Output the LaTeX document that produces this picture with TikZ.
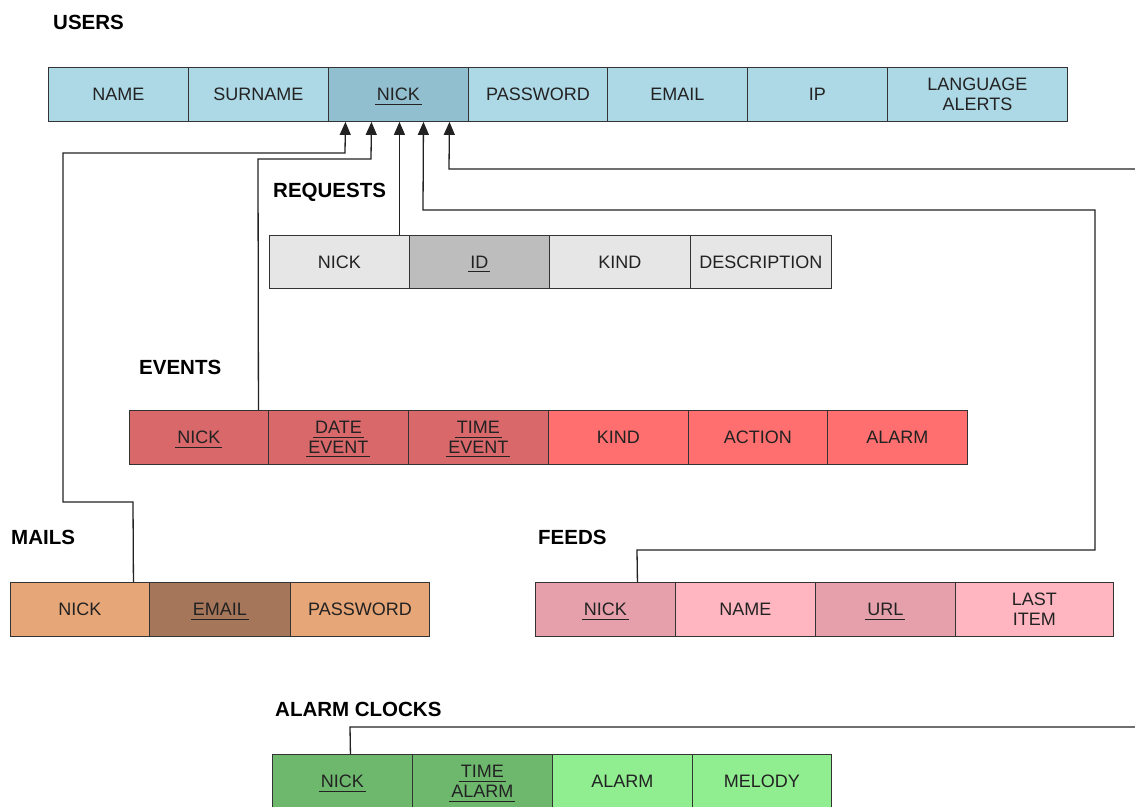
\documentclass[tikz,border=0pt]{standalone}
\usepackage{fontspec}
\setmainfont{Liberation Sans}
\usetikzlibrary{arrows.meta}

% fonts for field names and table titles
\newcommand\fieldfont{\fontsize{18}{19.5}\selectfont}
\newcommand\titlefont{\fontsize{20.5}{24}\selectfont\bfseries}
% key fields: underlined a little below the baseline (rule kept out of the box height)
\newcommand\pk[1]{\setbox0\hbox{#1}\makebox[0pt][l]{\hspace{-2pt}\smash{\rule[-4pt]{\dimexpr\wd0+4pt\relax}{0.9pt}}}\box0}

\definecolor{cellline}{HTML}{333333}
\definecolor{fieldtext}{HTML}{222222}
\definecolor{wire}{HTML}{222222}
\definecolor{usr}{HTML}{ADD8E6}
\definecolor{usrkey}{HTML}{92BFCF}
\definecolor{req}{HTML}{E6E6E6}
\definecolor{reqkey}{HTML}{BDBDBD}
\definecolor{evt}{HTML}{FF6F6F}
\definecolor{evtkey}{HTML}{D9686B}
\definecolor{mail}{HTML}{E6A677}
\definecolor{mailkey}{HTML}{A6765A}
\definecolor{feed}{HTML}{FFB6C1}
\definecolor{feedkey}{HTML}{E6A0AC}
\definecolor{alrm}{HTML}{90EE90}
\definecolor{alrmkey}{HTML}{6EB86E}

\tikzset{
  cell/.style={draw=cellline, line width=0.9pt, anchor=north west, inner sep=0pt,
    minimum height=54pt, align=center, font=\fieldfont, text=fieldtext},
  tabletitle/.style={anchor=west, inner sep=0pt, font=\titlefont, text=black},
  fk/.style={draw=wire, line width=1.3pt},
  fkarrow/.style={fk, -{Triangle[length=13pt,width=11pt]}},
}

\begin{document}
\begin{tikzpicture}[x=1pt, y=-1pt]
\useasboundingbox (0,0) rectangle (1135,806);
\clip (0,0) rectangle (1135,806);

% USERS
\node[tabletitle] (tUsers) at (53,22) {USERS};
\node[cell, fill=usr,    minimum width=140pt] (uName)  at (48,67)  {NAME};
\node[cell, fill=usr,    minimum width=140pt] (uSur)   at (188,67) {SURNAME};
\node[cell, fill=usrkey, minimum width=140pt] (uNick)  at (328,67) {\pk{NICK}};
\node[cell, fill=usr,    minimum width=139pt] (uPass)  at (468,67) {PASSWORD};
\node[cell, fill=usr,    minimum width=140pt] (uMail)  at (607,67) {EMAIL};
\node[cell, fill=usr,    minimum width=140pt] (uIp)    at (747,67) {IP};
\node[cell, fill=usr,    minimum width=180pt] (uLang)  at (887,67) {LANGUAGE\\ALERTS};

% REQUESTS
\node[tabletitle] (tReq) at (273,192) {REQUESTS};
\node[cell, fill=req,    minimum width=140pt, minimum height=53pt] (rNick) at (269,235) {NICK};
\node[cell, fill=reqkey, minimum width=140pt, minimum height=53pt] (rId)   at (409,235) {\pk{ID}};
\node[cell, fill=req,    minimum width=141pt, minimum height=53pt] (rKind) at (549,235) {KIND};
\node[cell, fill=req,    minimum width=141pt, minimum height=53pt] (rDesc) at (690,235) {DESCRIPTION};

% EVENTS
\node[tabletitle] (tEvt) at (139,367) {EVENTS};
\node[cell, fill=evtkey, minimum width=139pt] (eNick) at (129,410) {\pk{NICK}};
\node[cell, fill=evtkey, minimum width=140pt] (eDate) at (268,410) {\pk{DATE}\\\pk{EVENT}};
\node[cell, fill=evtkey, minimum width=140pt] (eTime) at (408,410) {\pk{TIME}\\\pk{EVENT}};
\node[cell, fill=evt,    minimum width=140pt] (eKind) at (548,410) {KIND};
\node[cell, fill=evt,    minimum width=139pt] (eAct)  at (688,410) {ACTION};
\node[cell, fill=evt,    minimum width=140pt] (eAlrm) at (827,410) {ALARM};

% MAILS
\node[tabletitle] (tMail) at (11,537) {MAILS};
\node[cell, fill=mail,    minimum width=139pt] (mNick) at (10,582)  {NICK};
\node[cell, fill=mailkey, minimum width=141pt] (mMail) at (149,582) {\pk{EMAIL}};
\node[cell, fill=mail,    minimum width=139pt] (mPass) at (290,582) {PASSWORD};

% FEEDS
\node[tabletitle] (tFeed) at (538,537) {FEEDS};
\node[cell, fill=feedkey, minimum width=140pt] (fNick) at (535,582) {\pk{NICK}};
\node[cell, fill=feed,    minimum width=140pt] (fName) at (675,582) {NAME};
\node[cell, fill=feedkey, minimum width=140pt] (fUrl)  at (815,582) {\pk{URL}};
\node[cell, fill=feed,    minimum width=158pt] (fLast) at (955,582) {LAST\\ITEM};

% ALARM CLOCKS
\node[tabletitle] (tAlrm) at (275,709) {ALARM CLOCKS};
\node[cell, fill=alrmkey, minimum width=140pt] (aNick) at (272,754) {\pk{NICK}};
\node[cell, fill=alrmkey, minimum width=140pt] (aTime) at (412,754) {\pk{TIME}\\\pk{ALARM}};
\node[cell, fill=alrm,    minimum width=140pt] (aAlrm) at (552,754) {ALARM};
\node[cell, fill=alrm,    minimum width=139pt] (aMel)  at (692,754) {MELODY};

% references into USERS.NICK
\coordinate (edgeA) at (1135,169);
\coordinate (edgeB) at (1135,727);

\draw[fkarrow] ([xshift=53.5pt]mNick.north) -- (133,502) -- (63,502) -- (63,153) -- (345,153) -- ([xshift=-53pt]uNick.south);
\draw[fkarrow] ([xshift=59.5pt]eNick.north) -- (258,159) -- (371,159) -- ([xshift=-27pt]uNick.south);
\draw[fkarrow] ([xshift=60pt]rNick.north) -- ([xshift=1pt]uNick.south);
\draw[fkarrow] ([xshift=32pt]fNick.north) -- (637,550) -- (1095,550) -- (1095,210) -- (423,210) -- ([xshift=25pt]uNick.south);
\draw[fkarrow] (edgeA) -- (449,169) -- ([xshift=51pt]uNick.south);
\draw[fk] ([xshift=8pt]aNick.north) -- (350,727) -- (edgeB);
\end{tikzpicture}
\end{document}
